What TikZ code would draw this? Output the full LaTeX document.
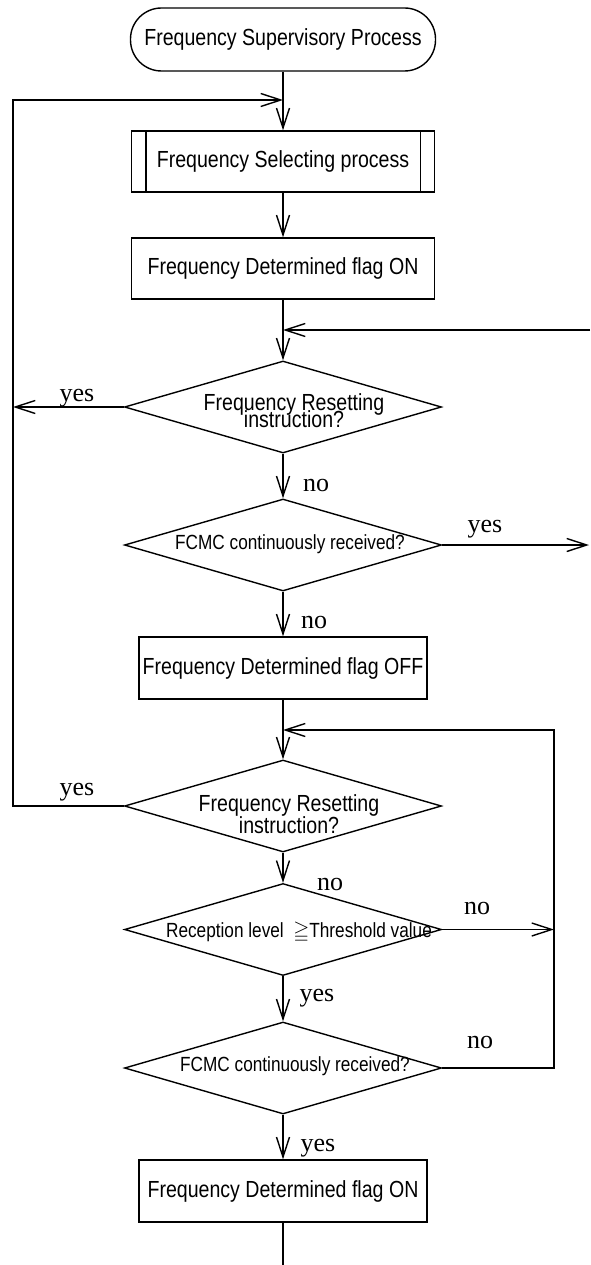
\documentclass[tikz,border=0pt]{standalone}
\usepackage{amssymb}
\usepackage{fontspec}
\setmainfont{Liberation Sans}[FakeStretch=0.84]
\newfontfamily\ynfont{Liberation Serif}
\usetikzlibrary{arrows.meta}
\usetikzlibrary{shapes.geometric}
\tikzset{>={Straight Barb[length=20pt,width=13pt]}}
\tikzset{
  procbox/.style={draw, minimum width=303pt, minimum height=61pt, inner sep=0pt,
    font=\fontsize{23.3}{26}\selectfont},
  decision/.style={draw, diamond, minimum width=317pt, minimum height=92pt, inner sep=0pt},
  dtext/.style={align=center, inner sep=0pt, font=\fontsize{23.3}{22}\selectfont},
  dsmall/.style={inner sep=0pt, font=\fontsize{20.5}{23}\selectfont},
  yn/.style={anchor=base, inner sep=0pt, font=\ynfont\fontsize{26}{28}\selectfont},
}

\begin{document}
\begin{tikzpicture}[x=1pt, y=-1pt, line width=1.4pt]
    \useasboundingbox (0,0) rectangle (590,1265);
    \def\cx{283};
    \def\xl{13};
    \def\xr{554};
    \coordinate (j1) at (\cx,100);
    \coordinate (j2) at (\cx,330);
    \coordinate (j3) at (\cx,730);
    \coordinate (loopL) at (\xl,100);
    \coordinate (loopR) at (\xr,730);
    \coordinate (edgeIn) at (590,330);
    \coordinate (edgeOut) at (589,545);
    \coordinate (bottom) at (\cx,1265);

    \node[procbox, rounded corners=31pt, minimum width=305pt, minimum height=63pt] (start) at (\cx,39.5) {Frequency Supervisory Process};
    \node[procbox] (sel) at (\cx,161.5) {Frequency Selecting process};
    \draw ([xshift=15pt]sel.north west) -- ([xshift=15pt]sel.south west);
    \draw ([xshift=-15pt]sel.north east) -- ([xshift=-15pt]sel.south east);
    \node[procbox] (on1) at (\cx,268.5) {Frequency Determined flag ON};

    \node[decision] (d1) at (\cx,407) {};
    \node[dtext] (t1) at (294,411) {Frequency Resetting\\[-5pt]instruction?};
    \node[decision] (d2) at (\cx,545) {};
    \node[dsmall] (t2) at (290,544) {FCMC continuously received?};
    \node[procbox, minimum width=288pt, minimum height=62pt] (off) at (\cx,668) {Frequency Determined flag OFF};
    \node[decision] (d3) at (\cx,806) {};
    \node[dtext] (t3) at (289,814) {Frequency Resetting\\instruction?};
    \node[decision] (d4) at (\cx,929.5) {};
    \node[dsmall] (t4) at (299,932) {Reception level\ \ $\geqq$Threshold value};
    \node[decision] (d5) at (\cx,1068) {};
    \node[dsmall] (t5) at (295,1066) {FCMC continuously received?};
    \node[procbox, minimum width=288pt, minimum height=62pt] (on2) at (\cx,1191) {Frequency Determined flag ON};

    % main line
    \draw[->] (start) -- (sel);
    \draw[->] (sel) -- (on1);
    \draw[->] (on1) -- (d1);
    \draw[->] (d1) -- (d2);
    \draw[->] (d2) -- (off);
    \draw[->] (off) -- (d3);
    \draw[->] (d3) -- (d4);
    \draw[->] (d4) -- (d5);
    \draw[->] (d5) -- (on2);
    \draw (on2) -- (bottom);

    % loops
    \draw[->] (d3.west) -| (loopL) -- (j1);
    \draw[->] (d1.west) -- (d1.west -| loopL);
    \draw[->] (edgeIn) -- (j2);
    \draw[->] (d2.east) -- (edgeOut);
    \draw[->] (d5.east) -| (loopR) -- (j3);
    \draw[->] (d4.east) -- (d4.east -| loopR);

    \node[yn] (y1) at (77,401) {yes};
    \node[yn] (n1) at (316,491) {no};
    \node[yn] (y2) at (485,532) {yes};
    \node[yn] (n2) at (314,628) {no};
    \node[yn] (y3) at (77,795) {yes};
    \node[yn] (n3) at (330,890) {no};
    \node[yn] (n4) at (477,914) {no};
    \node[yn] (y4) at (317,1001) {yes};
    \node[yn] (n5) at (480,1048) {no};
    \node[yn] (y5) at (318,1151) {yes};
\end{tikzpicture}
\end{document}
